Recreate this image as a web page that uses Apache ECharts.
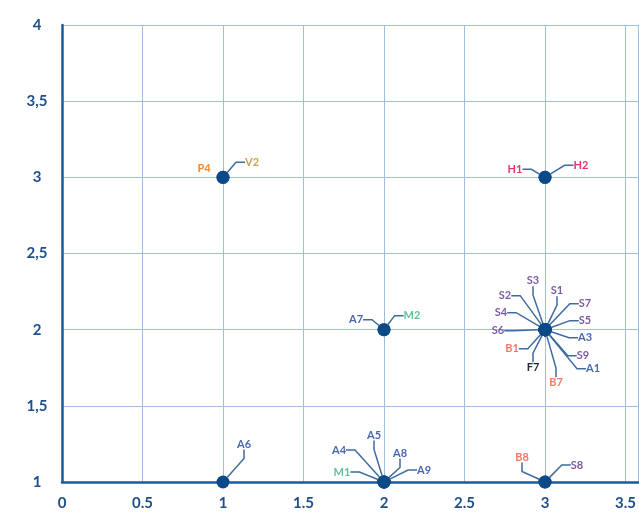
<!DOCTYPE html>
<html>
<head>
<meta charset="utf-8">
<script src="https://cdn.jsdelivr.net/npm/echarts@6/dist/echarts.min.js"></script>
<style>html,body{margin:0;padding:0;background:#fff}#c{width:639px;height:514px}</style>
</head>
<body>
<div id="c"></div>
<script>
// ---- data ----
const labelNames = ['P4','V2','H1','H2','A7','M2',
  'S3','S1','S2','S7','S4','S5','S6','A3','B1','S9','F7','A1','B7',
  'A4','A5','A8','A9','M1','A6','B8','S8'];
const xValues = [1,1,3,3,2,2, 3,3,3,3,3,3,3,3,3,3,3,3,3, 2,2,2,2,2, 1, 3,3];
const yValues = [3,3,3,3,2,2, 2,2,2,2,2,2,2,2,2,2,2,2,2, 1,1,1,1,1, 1, 1,1];
const xTicks = [0,0.5,1,1.5,2,2.5,3,3.5];
const yTicks = [1,1.5,2,2.5,3,3.5,4];

// ---- layout / style (not data) ----
const labelOffset = {
  P4:[-19,-9], V2:[29,-15], H1:[-30,-8], H2:[36,-12], A7:[-28,-10], M2:[28,-14],
  S3:[-12,-49], S1:[12,-39], S2:[-40,-34], S7:[40,-26], S4:[-44,-17], S5:[40,-9],
  S6:[-47,1], A3:[40,8], B1:[-33,19], S9:[38,26], F7:[-12,38], A1:[48,39], B7:[11,53],
  A4:[-45,-32], A5:[-10,-47], A8:[16,-29], A9:[40,-12], M1:[-42,-10],
  A6:[21,-38], B8:[-23,-25], S8:[32,-17]
};
const prefixColor = { S:'#7d5aa8', A:'#4a68b0', M:'#62c296', B:'#f07a6a', P:'#f2872f',
  V:'#c9a24b', H:'#e5336f', F:'#232b3b' };
const noLine = ['P4'];

const data = labelNames.map((n,i)=>({
  name:n, value:[xValues[i], yValues[i]],
  label:{color: prefixColor[n[0]]},
  labelLine:{show: noLine.indexOf(n) < 0}
}));

const chart = echarts.init(document.getElementById('c'));
const axisColor = '#1d5a99';
const gridColor = '#9fbde0';
chart.setOption({
  animation:false,
  grid:{left:62, right:0, top:25, bottom:32},
  xAxis:{
    type:'value', min:0, max:3.58, interval:0.5,
    axisLine:{show:true, onZero:false, lineStyle:{color:axisColor, width:2.5}},
    axisTick:{show:false},
    splitLine:{show:true, lineStyle:{color:gridColor, width:1}},
    axisLabel:{showMaxLabel:false, margin:14, color:'#1f4f8a', fontFamily:'Lato', fontWeight:'bold', fontSize:15,
      formatter: v => xTicks.indexOf(v) >= 0 ? String(v) : ''}
  },
  yAxis:{
    type:'value', min:1, max:4, interval:0.5,
    axisLine:{show:true, onZero:false, lineStyle:{color:axisColor, width:2.5}},
    axisTick:{show:false},
    splitLine:{show:true, lineStyle:{color:gridColor, width:1}},
    axisLabel:{margin:25, align:'center', color:'#1f4f8a', fontFamily:'Lato', fontWeight:'bold', fontSize:15,
      formatter: v => yTicks.indexOf(v) >= 0 ? String(v).replace('.', ',') : ''}
  },
  series:[{
    type:'scatter',
    symbolSize:13,
    itemStyle:{color:'#0b4a87', opacity:1},
    data:data,
    label:{show:true, formatter:'{b}', fontFamily:'Lato', fontWeight:'bold', fontSize:11},
    labelLine:{show:true, length2:9, lineStyle:{color:'#3d6c9e', width:1.5}},
    labelLayout: function(p){
      const off = labelOffset[labelNames[p.dataIndex]];
      const cx = p.rect.x + p.rect.width/2, cy = p.rect.y + p.rect.height/2;
      return {x: cx + off[0], y: cy + off[1], align:'center', verticalAlign:'middle'};
    },
    z:3
  }]
});
</script>
</body>
</html>
